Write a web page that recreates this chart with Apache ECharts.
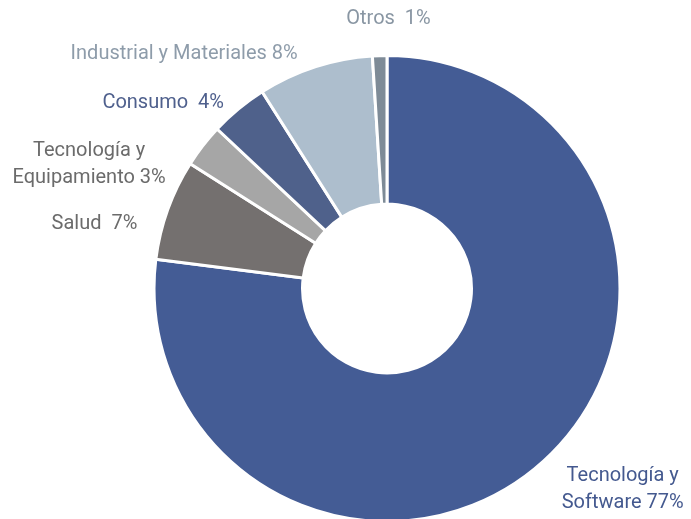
<!DOCTYPE html>
<html>
<head>
<meta charset="utf-8">
<script src="https://cdn.jsdelivr.net/npm/echarts@6/dist/echarts.min.js"></script>
<style>
html,body{margin:0;padding:0;background:#fff;}
#chart{width:691px;height:519px;}
</style>
</head>
<body>
<div id="chart"></div>
<script>
// Data
const categories = ['Tecnología y\nSoftware', 'Salud', 'Tecnología y\nEquipamiento', 'Consumo', 'Industrial y Materiales', 'Otros'];
const values = [77, 7, 3, 4, 8, 1];
const separators = [' ', '  ', ' ', '  ', ' ', '  '];
const sliceColors = ['#445C95', '#74706F', '#A6A6A6', '#4F618B', '#ADBECD', '#7E8B97'];
const labelColors = ['#44598F', '#6B6B6B', '#6B6B6B', '#4F608D', '#8E9CAA', '#8996A3'];
// label placement (labelLine lengths, labels are drawn without lines)
const lineLen = [35.6, -43.7, -31.2, 7.1, 13.3, 37.1];
const lineLen2 = [-2.9, 71.6, 61.8, 10.0, 13.2, -52.2];

const chart = echarts.init(document.getElementById('chart'), null, {renderer: 'canvas'});

const data = categories.map((name, i) => ({
  name: name,
  value: values[i],
  itemStyle: {color: sliceColors[i]},
  label: {color: labelColors[i]},
  labelLine: {show: false, length: lineLen[i], length2: lineLen2[i]}
}));

chart.setOption({
  animation: false,
  backgroundColor: '#ffffff',
  series: [{
    type: 'pie',
    center: [387, 288.5],
    radius: [84.5, 233],
    startAngle: 90,
    clockwise: true,
    avoidLabelOverlap: false,
    itemStyle: {borderColor: '#ffffff', borderWidth: 3},
    emphasis: {disabled: true},
    label: {
      show: true,
      position: 'outside',
      distanceToLabelLine: 0,
      fontFamily: 'Roboto',
      fontSize: 20,
      lineHeight: 27,
      formatter: function (p) {
        const text = p.name + separators[p.dataIndex] + p.value + '%';
        return text.split('\n').map(function (l) { return '{c|' + l + '}'; }).join('\n');
      },
      rich: {
        c: {align: 'center', fontFamily: 'Roboto', fontSize: 20, lineHeight: 27}
      }
    },
    labelLine: {show: false},
    data: data
  }]
});
</script>
</body>
</html>
